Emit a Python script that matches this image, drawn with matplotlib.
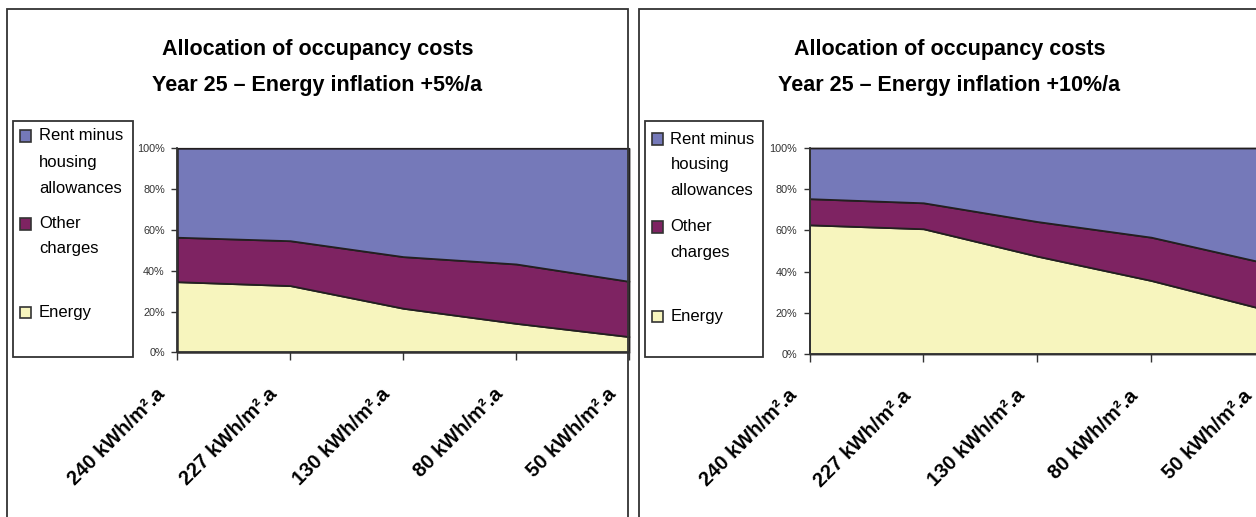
import matplotlib.pyplot as plt
from matplotlib.patches import Rectangle
from matplotlib.transforms import ScaledTranslation

plt.rcParams['font.family'] = ['Liberation Sans', 'DejaVu Sans']

categories = ['240 kWh/m².a', '227 kWh/m².a', '130 kWh/m².a', '80 kWh/m².a', '50 kWh/m².a']
series_names = ['Rent minus\nhousing\nallowances', 'Other\ncharges', 'Energy']

# shares in %
energy_5 = [34.6, 32.7, 21.6, 14.2, 7.7]
other_5 = [21.8, 22.0, 25.3, 29.1, 27.1]
rent_5 = [43.6, 45.3, 53.1, 56.7, 65.2]

energy_10 = [62.7, 60.8, 47.5, 35.7, 21.6]
other_10 = [12.7, 12.6, 16.8, 21.0, 22.6]
rent_10 = [24.6, 26.6, 35.7, 43.3, 55.8]

titles = ['Allocation of occupancy costs\nYear 25 \u2013 Energy inflation +5%/a',
          'Allocation of occupancy costs\nYear 25 \u2013 Energy inflation +10%/a']

colors = {'rent': '#7579b9', 'other': '#7e2362', 'energy': '#f7f5be'}
EDGE = '#231f20'

W, H = 1256, 517


def fx(px):
    return px / W


def fy(py):
    return 1 - py / H


fig = plt.figure(figsize=(W / 100, H / 100), dpi=100)


def panel(x0, x1, ax_left, ax_right, ax_top, ax_bottom, energy, other, rent, title, leg_x0, leg_x1, leg_ys):
    # outer chart border
    fig.add_artist(Rectangle((fx(x0), fy(530)), fx(x1 - x0), (530 - 9) / H,
                             transform=fig.transFigure, fill=False, edgecolor='#333333', lw=1.3))
    cx = (x0 + x1) / 2
    line1, line2 = title.split('\n')
    fig.text(fx(cx), fy(49), line1, ha='center', va='center', fontsize=15.5, fontweight='bold')
    fig.text(fx(cx), fy(85), line2, ha='center', va='center', fontsize=15.5, fontweight='bold')

    ax = fig.add_axes([fx(ax_left), fy(ax_bottom), (ax_right - ax_left) / W, (ax_bottom - ax_top) / H])
    x = list(range(len(categories)))
    polys = ax.stackplot(x, energy, other, rent,
                         colors=[colors['energy'], colors['other'], colors['rent']],
                         edgecolor=EDGE, linewidth=1.3)
    for p in polys:
        p.set_clip_on(False)
    ax.set_xlim(0, len(categories) - 1)
    ax.set_ylim(0, 100)
    ax.set_yticks([0, 20, 40, 60, 80, 100])
    ax.set_yticklabels(['{}%'.format(v) for v in [0, 20, 40, 60, 80, 100]], fontsize=7.8, color='#333333')
    ax.set_xticks(x)
    ax.set_xticklabels(categories, rotation=45, ha='right', va='top', fontsize=14.5, fontweight='bold')
    ax.tick_params(axis='y', length=4, width=1, color='#333333', pad=5)
    ax.tick_params(axis='x', length=6, width=1, color='#333333', pad=17)
    offset = ScaledTranslation(-9 / 100, 0, fig.dpi_scale_trans)
    for lab in ax.get_xticklabels():
        lab.set_transform(lab.get_transform() + offset)
    for s in ['top', 'right']:
        ax.spines[s].set_visible(False)
    for s in ['left', 'bottom']:
        ax.spines[s].set_color('#333333')
        ax.spines[s].set_linewidth(1.3)
    ax.set_facecolor('none')

    # legend box
    fig.add_artist(Rectangle((fx(leg_x0), fy(356.7)), (leg_x1 - leg_x0) / W, (356.7 - 121) / H,
                             transform=fig.transFigure, facecolor='white', edgecolor='#333333', lw=1.3))
    swatches = [colors['rent'], colors['other'], colors['energy']]
    for name, col, ys in zip(series_names, swatches, leg_ys):
        fig.add_artist(Rectangle((fx(leg_x0 + 7), fy(ys[0] + 5.5)), 11 / W, 11 / H,
                                 transform=fig.transFigure, facecolor=col, edgecolor='#333333', lw=1.2))
        for txt, y in zip(name.split('\n'), ys):
            fig.text(fx(leg_x0 + 25.5), fy(y), txt, ha='left', va='center', fontsize=12)
    return ax


panel(7, 628, 177.3, 629, 148.3, 352.3, energy_5, other_5, rent_5, titles[0],
      13.3, 132.7, [[136, 162.7, 188.7], [224, 248.7], [312.7]])
panel(639, 1260, 809.6, 1265, 148, 354, energy_10, other_10, rent_10, titles[1],
      645, 763, [[139, 165, 191], [227, 253], [316.7]])

fig.savefig('out.png', dpi=100)
